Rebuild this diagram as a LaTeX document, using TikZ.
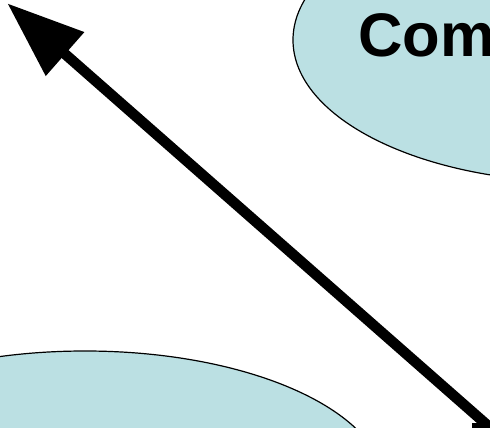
\documentclass[tikz,border=0pt]{standalone}
\usepackage{fontspec}
\setmainfont{Liberation Sans}
\usetikzlibrary{arrows.meta,shapes.geometric,calc}
\definecolor{bubble}{RGB}{187,224,227}
\tikzset{
  bubblenode/.style={ellipse, draw=black, line width=1.2pt, fill=bubble, inner sep=0pt},
  bigarrow/.style={line width=10.5pt, -{Triangle[length=76.9pt,width=55.5pt]}},
}
\begin{document}
\begin{tikzpicture}[x=1pt,y=-1pt]
\useasboundingbox (0,0) rectangle (490,428);
\clip (0,0) rectangle (490,428);
\node[bubblenode, minimum width=574pt, minimum height=284pt] (top) at (580,40) {};
\node[bubblenode, minimum width=600pt, minimum height=272pt] (bottom) at (85,487) {};
\node[anchor=base west, inner sep=0pt, font=\bfseries\fontsize{61.5}{70}\selectfont] (label) at (358,56.7) {Com};
\coordinate (tip) at (7.3,3.3);
\coordinate (tail) at ($(tip)+(525.7,462)$);
\draw[bigarrow] (tail) -- (tip);
\fill (472,423) rectangle (490,428);
\end{tikzpicture}
\end{document}
